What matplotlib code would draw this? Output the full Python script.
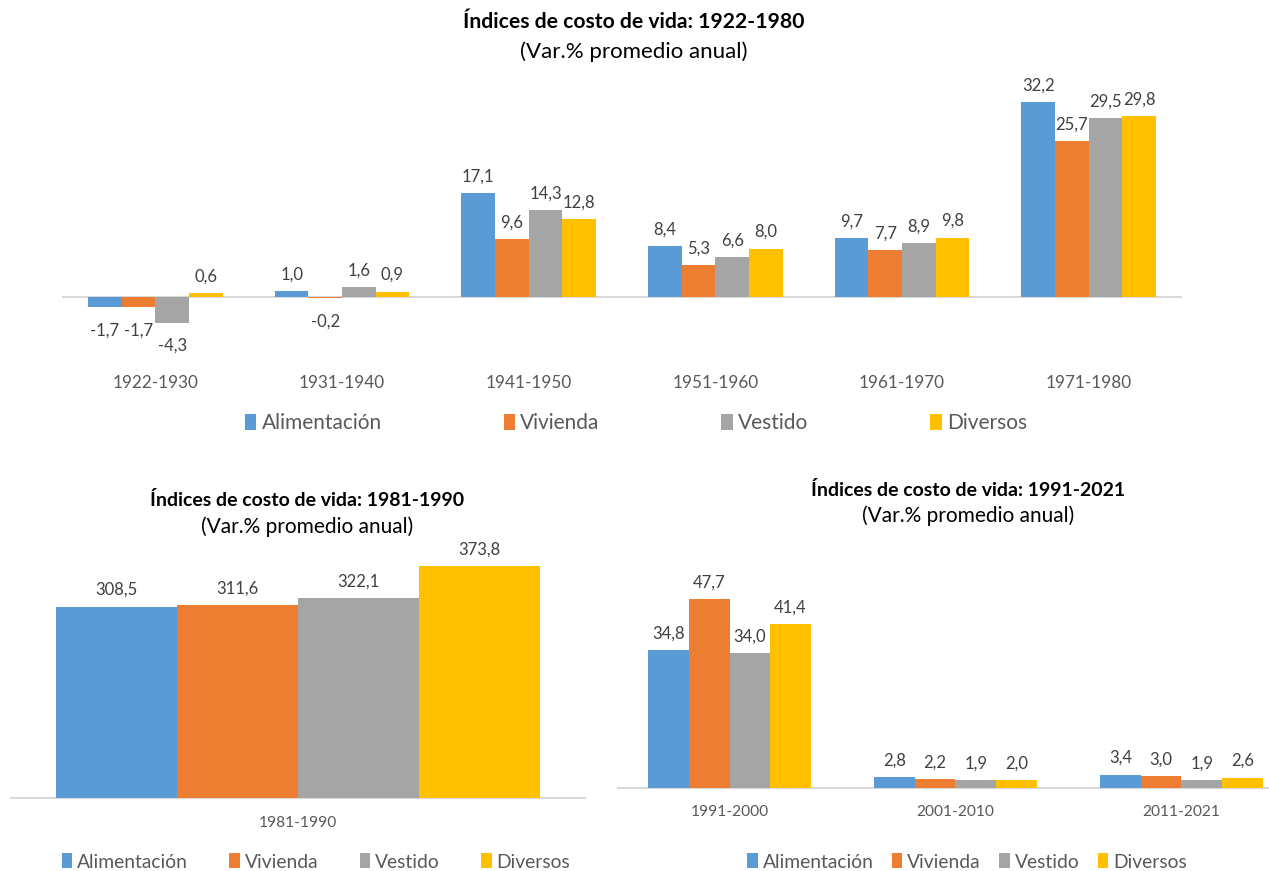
import matplotlib
matplotlib.use("Agg")
import matplotlib.pyplot as plt
from matplotlib.patches import Patch
import numpy as np

plt.rcParams['font.family'] = ['Lato', 'DejaVu Sans']

# ---------------- data ----------------
series = ["Alimentación", "Vivienda", "Vestido", "Diversos"]
colors = ["#5B9BD5", "#ED7D31", "#A5A5A5", "#FFC000"]

cats_top = ["1922-1930", "1931-1940", "1941-1950", "1951-1960", "1961-1970", "1971-1980"]
alim_top = [-1.7, 1.0, 17.1, 8.4, 9.7, 32.2]
viv_top = [-1.7, -0.2, 9.6, 5.3, 7.7, 25.7]
vest_top = [-4.3, 1.6, 14.3, 6.6, 8.9, 29.5]
div_top = [0.6, 0.9, 12.8, 8.0, 9.8, 29.8]

cats_bl = ["1981-1990"]
alim_bl = [308.5]
viv_bl = [311.6]
vest_bl = [322.1]
div_bl = [373.8]

cats_br = ["1991-2000", "2001-2010", "2011-2021"]
alim_br = [34.8, 2.8, 3.4]
viv_br = [47.7, 2.2, 3.0]
vest_br = [34.0, 1.9, 1.9]
div_br = [41.4, 2.0, 2.6]

W, H = 1269, 871
fig = plt.figure(figsize=(W / 100, H / 100), dpi=100)

LABEL_C = "#404040"
TICK_C = "#595959"


def px_axes(x0, x1, ytop, ybot):
    return fig.add_axes([x0 / W, 1 - ybot / H, (x1 - x0) / W, (ybot - ytop) / H])


def fmt(v):
    return f"{v:.1f}".replace(".", ",")


def draw(ax, cats, data, width, ylim, fs_lab=12, fs_tick=12, pad=4):
    x = np.arange(len(cats))
    n = len(data)
    for i, (vals, c) in enumerate(zip(data, colors)):
        off = (i - (n - 1) / 2) * width
        bars = ax.bar(x + off, vals, width=width, color=c, zorder=2)
        for b, v in zip(bars, vals):
            xc = b.get_x() + b.get_width() / 2
            dy = 12 if v >= 0 else -16.5
            ax.annotate(fmt(v), (xc, v), xytext=(0, dy), textcoords="offset points",
                        ha="center", va="center", fontsize=fs_lab, color=LABEL_C)
    ax.axhline(0, color="#D9D9D9", lw=1.5, zorder=1)
    ax.set_ylim(*ylim)
    ax.set_xlim(-0.5, len(cats) - 0.5)
    ax.set_xticks(x)
    ax.set_xticklabels(cats, fontsize=fs_tick, color=TICK_C)
    ax.tick_params(axis="x", length=0, pad=pad)
    ax.set_yticks([])
    for s in ax.spines.values():
        s.set_visible(False)
    ax.patch.set_alpha(0)


# top chart
ax1 = px_axes(62, 1182, 297 - 35 * 6.06, 297 + 12 * 6.06)
draw(ax1, cats_top, [alim_top, viv_top, vest_top, div_top], 0.18, (-12, 35),
     fs_lab=12, fs_tick=12.3)

# bottom-left
ax2 = px_axes(10, 586, 798 - 416 * 0.62, 798 + 20 * 0.62)
draw(ax2, cats_bl, [alim_bl, viv_bl, vest_bl, div_bl], 0.21, (-20, 416),
     fs_lab=12, fs_tick=11.2)

# bottom-right
ax3 = px_axes(616.5, 1294.5, 788 - 55 * 3.96, 788 + 3 * 3.96)
draw(ax3, cats_br, [alim_br, viv_br, vest_br, div_br], 0.18, (-3, 55),
     fs_lab=12, fs_tick=11.2)

# titles
def title(xc, y1, y2, t, size, size2):
    fig.text(xc / W, 1 - y1 / H, t, ha="center", va="center", fontsize=size,
             fontweight="bold", color="#000000")
    fig.text(xc / W, 1 - y2 / H, "(Var.% promedio anual)", ha="center", va="center",
             fontsize=size2, color="#000000")

title(634, 22, 52, "Índices de costo de vida: 1922-1980", 15.2, 16)
title(307, 500, 527, "Índices de costo de vida: 1981-1990", 14, 15)
title(968, 490, 516, "Índices de costo de vida: 1991-2021", 14, 15)

# legends
handles = [Patch(facecolor=c, edgecolor="none") for c in colors]


def legend(xc, y, fs, colsp):
    fig.legend(handles, series, loc="center", bbox_to_anchor=(xc / W, 1 - y / H),
               ncol=4, frameon=False, fontsize=fs, columnspacing=colsp,
               handlelength=0.55, handleheight=0.8, handletextpad=0.25,
               labelcolor=TICK_C, borderpad=0)

legend(636, 423, 15, 5.85)
legend(316, 862, 13.9, 2.14)
legend(967, 862, 13.9, 0.95)

fig.savefig("out.png", dpi=100)
